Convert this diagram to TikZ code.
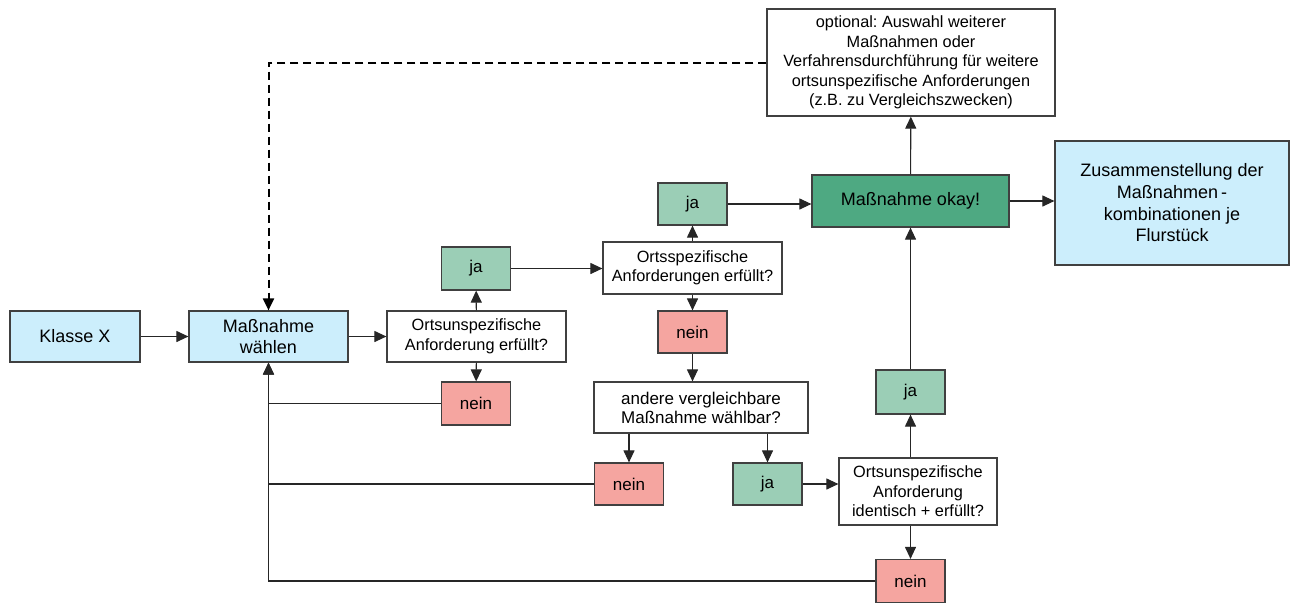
\documentclass[tikz,border=0pt]{standalone}
\usepackage{fontspec}
\setmainfont{Liberation Sans}
\usetikzlibrary{arrows.meta}
\frenchspacing
\definecolor{lblue}{HTML}{CCEEFC}
\definecolor{jagreen}{HTML}{9BCEB6}
\definecolor{neinred}{HTML}{F5A5A0}
\definecolor{okgreen}{HTML}{4EA982}
\definecolor{bordergray}{HTML}{404040}
\tikzset{
  box/.style={draw=bordergray, line width=1.2pt, inner sep=0pt, align=center, text=black},
  fs/.style={font=\fontsize{16.3}{19.5}\selectfont},
  fl/.style={font=\fontsize{18}{21.7}\selectfont},
  fm/.style={font=\fontsize{17}{19}\selectfont},
  jabox/.style={box, fm, fill=jagreen, minimum width=69pt, minimum height=43pt},
  neinbox/.style={box, fm, fill=neinred, minimum width=69pt, minimum height=43pt},
  conn/.style={line width=1.1pt, draw=black!85, -{Triangle[length=12pt,width=11pt]}},
  plain/.style={line width=1.1pt, draw=black!85},
  dashconn/.style={line width=2pt, draw=black, dash pattern=on 8pt off 5pt, -{Triangle[length=12pt,width=11pt]}}
}
\begin{document}
\begin{tikzpicture}[x=1pt,y=-1pt]
\useasboundingbox (0,0) rectangle (1295,603);
\node[box, fl, fill=lblue, minimum width=130pt, minimum height=51pt] (klasse) at (75,336.5) {Klasse X};
\node[box, fl, fill=lblue, minimum width=159pt, minimum height=51pt] (waehlen) at (268.5,336.5) {Maßnahme\\wählen};
\node[box, fs, fill=white, minimum width=179pt, minimum height=51pt] (ounsp) at (476.5,336.5) {Ortsunspezifische\\Anforderung erfüllt?};
\node[jabox] (ja1) at (476,268.5) {ja};
\node[neinbox] (nein1) at (476,403.5) {nein};
\node[box, fs, fill=white, minimum width=179pt, minimum height=52pt] (osp) at (692.5,268) {Ortsspezifische\\Anforderungen erfüllt?};
\node[jabox, minimum height=42pt] (ja2) at (692.5,204) {ja};
\node[neinbox, minimum height=42pt] (nein2) at (692.5,332) {nein};
\node[box, fl, fill=okgreen, minimum width=197pt, minimum height=52pt] (okay) at (910.5,201) {Maßnahme okay!};
\node[box, fm, fill=white, minimum width=214pt, minimum height=51pt] (andere) at (701,407.5) {andere vergleichbare\\Maßnahme wählbar?};
\node[neinbox, minimum height=42pt] (nein3) at (629,484) {nein};
\node[jabox, minimum height=42pt] (ja3) at (767.5,484) {ja};
\node[box, fs, fill=white, minimum width=158pt, minimum height=67pt] (ident) at (918,491.5) {Ortsunspezifische\\Anforderung\\identisch + erfüllt?};
\node[jabox, minimum height=44pt] (ja4) at (910.5,392) {ja};
\node[neinbox] (nein4) at (910.5,581) {nein};
\node[box, fs, fill=white, minimum width=288pt, minimum height=107pt] (optional) at (911,62.5) {optional: Auswahl weiterer\\Maßnahmen oder\\Verfahrensdurchführung für weitere\\ortsunspezifische Anforderungen\\(z.B. zu Vergleichszwecken)};
\node[box, fl, fill=lblue, minimum width=234pt, minimum height=124pt] (zus) at (1172,203) {Zusammenstellung der\\Maßnahmen\,-\\kombinationen je\\Flurstück};
% connectors
\draw[conn] (klasse) -- (waehlen);
\draw[conn] (waehlen) -- (ounsp);
\draw[conn] (ounsp) -- (ja1);
\draw[conn] (ounsp) -- (nein1);
\draw[conn] (nein1.west) -| (waehlen.south);
\draw[conn] (ja1.east) -- (ja1.east -| osp.west);
\draw[conn] (osp) -- (ja2);
\draw[conn] (osp) -- (nein2);
\draw[conn] (ja2.east) -- (ja2.east -| okay.west);
\draw[conn] (nein2.south) -- (nein2.south |- andere.north);
\draw[conn] (nein3.north |- andere.south) -- (nein3.north);
\draw[conn] (ja3.north |- andere.south) -- (ja3.north);
\draw[plain] (nein3.west) -- (nein3.west -| waehlen.south);
\draw[conn] (ja3.east) -- (ja3.east -| ident.west);
\draw[conn] (ja4.south |- ident.north) -- (ja4.south);
\draw[conn] (ja4) -- (okay);
\draw[conn] (nein4.north |- ident.south) -- (nein4.north);
\draw[conn] (nein4.west) -| (waehlen.south);
\draw[conn] (okay) -- (optional);
\draw[conn] (okay.east) -- (okay.east -| zus.west);
\draw[dashconn] (optional.west) -| (waehlen.north);
\end{tikzpicture}
\end{document}
